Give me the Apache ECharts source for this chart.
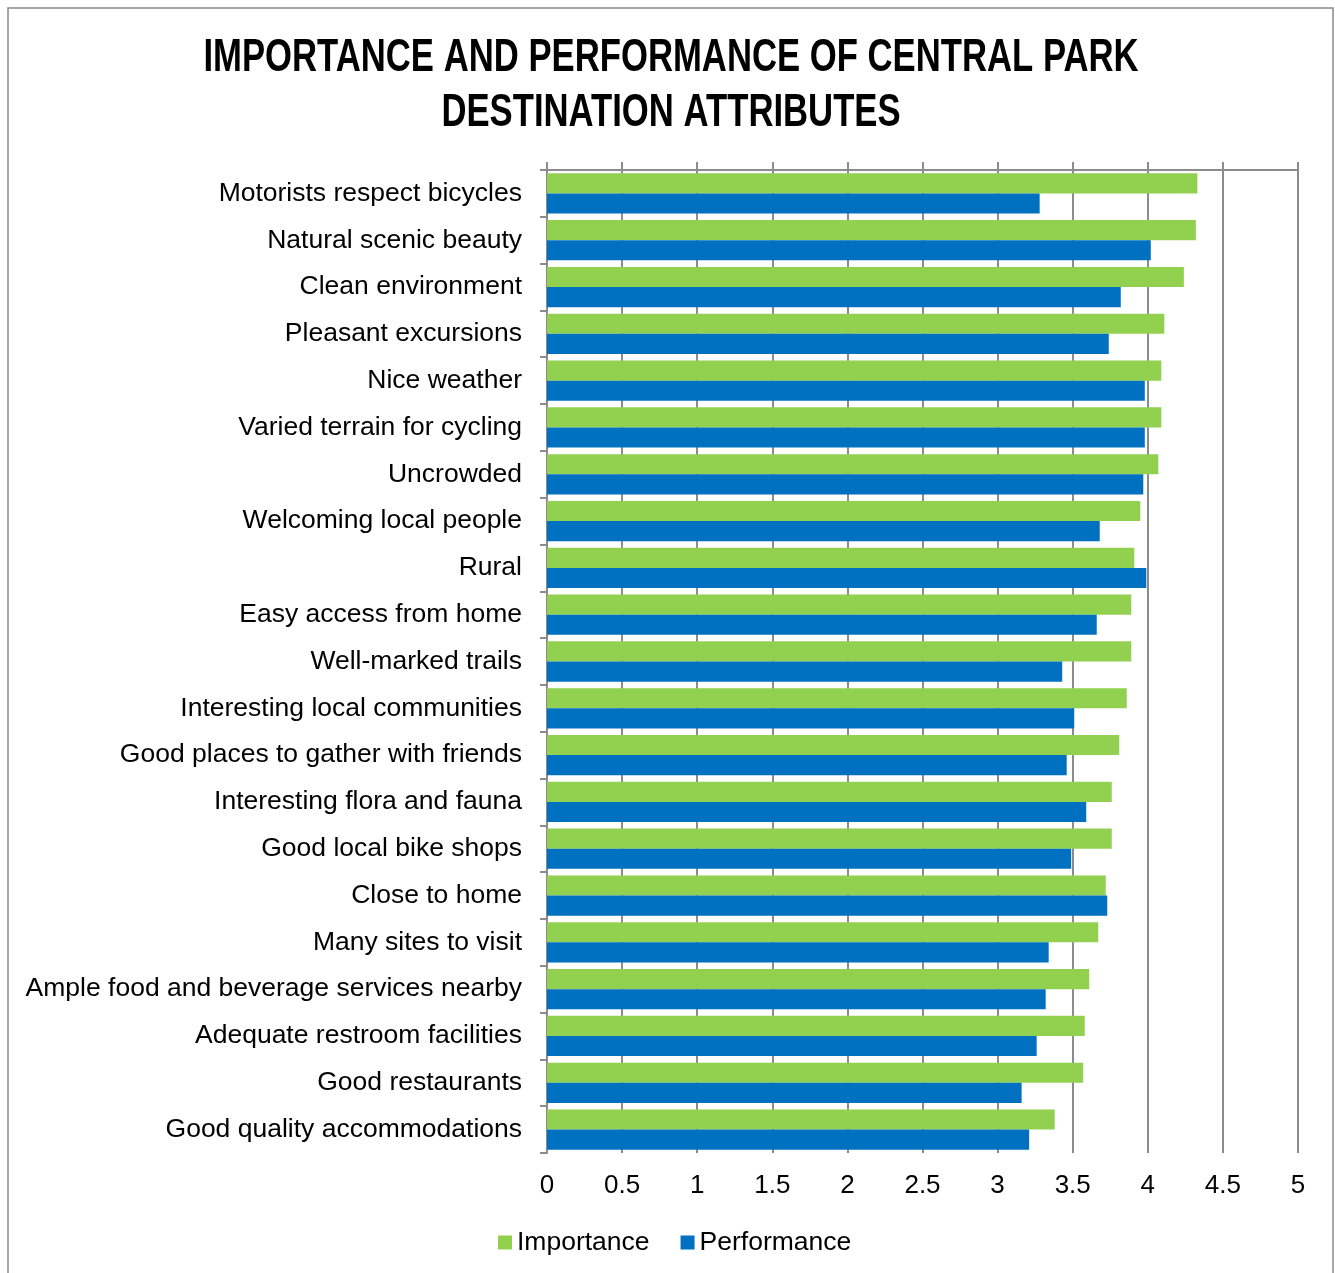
<!DOCTYPE html>
<html>
<head>
<meta charset="utf-8">
<script src="https://cdn.jsdelivr.net/npm/echarts@6/dist/echarts.min.js"></script>
<style>
  html, body { margin: 0; padding: 0; background: #fff; }
  #chart { width: 1335px; height: 1273px; }
</style>
</head>
<body>
<div id="chart"></div>
<script>
// Destination attributes, listed top to bottom
const attributes = [
  'Motorists respect bicycles',
  'Natural scenic beauty',
  'Clean environment',
  'Pleasant excursions',
  'Nice weather',
  'Varied terrain for cycling',
  'Uncrowded',
  'Welcoming local people',
  'Rural',
  'Easy access from home',
  'Well-marked trails',
  'Interesting local communities',
  'Good places to gather with friends',
  'Interesting flora and fauna',
  'Good local bike shops',
  'Close to home',
  'Many sites to visit',
  'Ample food and beverage services nearby',
  'Adequate restroom facilities',
  'Good restaurants',
  'Good quality accommodations'
];

// Mean ratings per attribute
const importance = [4.33, 4.32, 4.24, 4.11, 4.09, 4.09, 4.07, 3.95, 3.91, 3.89, 3.89,
                    3.86, 3.81, 3.76, 3.76, 3.72, 3.67, 3.61, 3.58, 3.57, 3.38];
const performance = [3.28, 4.02, 3.82, 3.74, 3.98, 3.98, 3.97, 3.68, 3.99, 3.66, 3.43,
                     3.51, 3.46, 3.59, 3.49, 3.73, 3.34, 3.32, 3.26, 3.16, 3.21];

const seriesNames = ['Importance', 'Performance'];
const titleLines = ['IMPORTANCE AND PERFORMANCE OF CENTRAL PARK', 'DESTINATION ATTRIBUTES'];

const FONT = '"Liberation Sans", Arial, sans-serif';
const GRID_COLOR = '#8c8c8c';

// Condensed bold heading: regular bold face squeezed horizontally
const titleGraphics = titleLines.map((line, i) => ({
  type: 'text',
  x: 671,
  y: 58.5 + i * 54.5,
  scaleX: 0.754,
  silent: true,
  style: {
    text: line,
    font: 'bold 46px "Liberation Sans", Arial, sans-serif',
    fill: '#000',
    align: 'center',
    verticalAlign: 'middle'
  }
}));

const chart = echarts.init(document.getElementById('chart'), null, { renderer: 'canvas' });

chart.setOption({
  backgroundColor: '#ffffff',
  animation: false,
  graphic: [{
    type: 'rect',
    shape: { x: 8, y: 8, width: 1325, height: 1300 },
    style: { fill: 'none', stroke: '#8a8a8a', lineWidth: 1.5 },
    silent: true
  }].concat(titleGraphics),
  legend: {
    data: seriesNames,
    left: 493,
    top: 1224,
    icon: 'rect',
    itemWidth: 14,
    itemHeight: 14,
    itemGap: 31,
    textStyle: { fontFamily: FONT, fontSize: 26.5, color: '#000' }
  },
  grid: { left: 547, right: 37, top: 170, bottom: 120, containLabel: false },
  xAxis: [
    {
      type: 'value',
      position: 'top',
      min: 0, max: 5, interval: 0.5,
      axisLine: { show: true, lineStyle: { color: GRID_COLOR, width: 2 } },
      axisTick: { show: true, inside: false, length: 8, lineStyle: { color: GRID_COLOR, width: 2 } },
      axisLabel: { show: false },
      splitLine: { show: true, lineStyle: { color: GRID_COLOR, width: 2 } }
    },
    {
      type: 'value',
      position: 'bottom',
      min: 0, max: 5, interval: 0.5,
      axisLine: { show: false },
      axisTick: { show: false },
      splitLine: { show: false },
      axisLabel: { show: true, margin: 20, fontFamily: FONT, fontSize: 26, color: '#000' }
    }
  ],
  yAxis: {
    type: 'category',
    data: attributes,
    inverse: true,
    axisLine: { show: true, lineStyle: { color: GRID_COLOR, width: 2 } },
    axisTick: { show: true, inside: false, length: 7, lineStyle: { color: GRID_COLOR, width: 2 } },
    axisLabel: { margin: 25, fontFamily: FONT, fontSize: 26.5, color: '#000' },
    splitLine: { show: false }
  },
  series: [
    {
      name: seriesNames[0],
      type: 'bar',
      xAxisIndex: 0,
      data: importance,
      itemStyle: { color: '#92D050' },
      barGap: '0%',
      barCategoryGap: '14%'
    },
    {
      name: seriesNames[1],
      type: 'bar',
      xAxisIndex: 0,
      data: performance,
      itemStyle: { color: '#0070C0' },
      barGap: '0%',
      barCategoryGap: '14%'
    }
  ]
});
</script>
</body>
</html>
